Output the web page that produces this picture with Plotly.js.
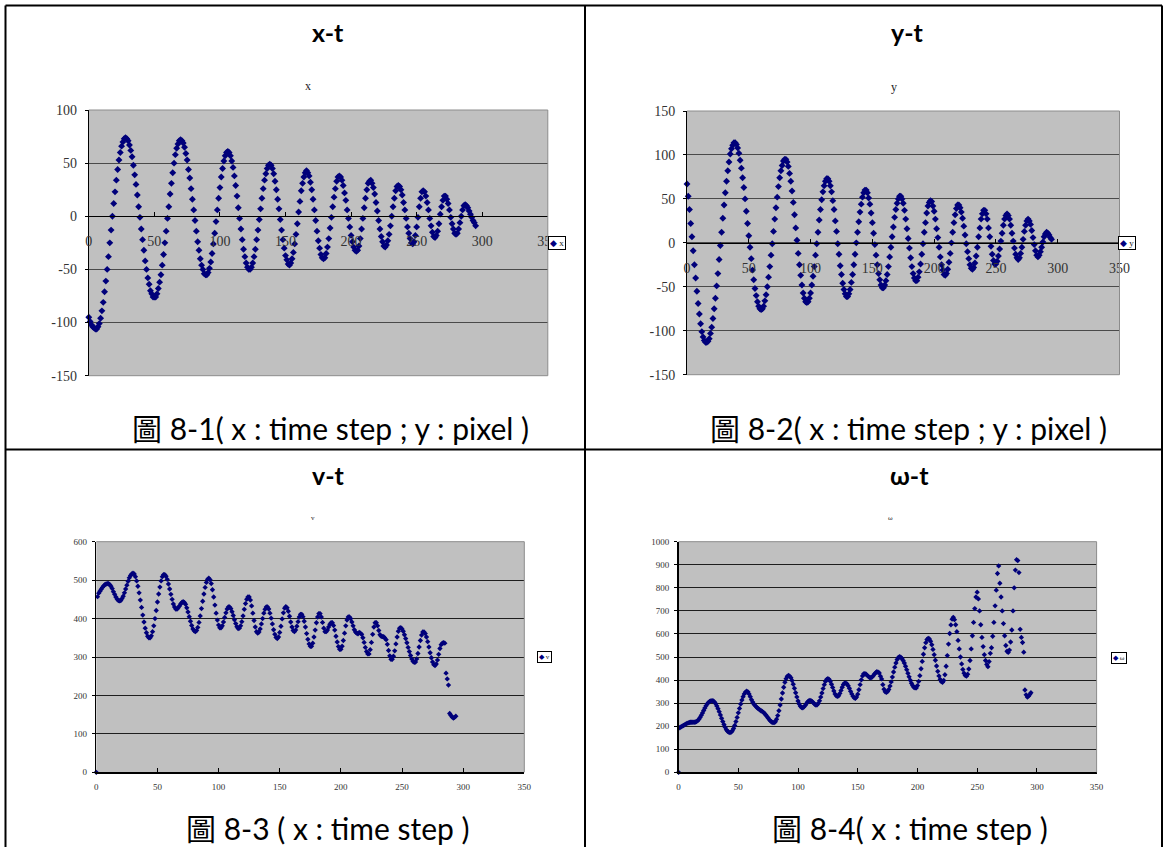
<!DOCTYPE html>
<html>
<head>
<meta charset="utf-8">
<script src="https://cdn.plot.ly/plotly-3.0.1.min.js"></script>
<style>
html,body{margin:0;padding:0;background:#ffffff;}
#chart{width:1163px;height:847px;}
</style>
</head>
<body>
<div id="chart"></div>
<script>
// ---------------- DATA ----------------
const timeStep = [
0,1,2,3,4,5,6,7,8,9,10,11,12,13,14,15,16,17,18,19,
20,21,22,23,24,25,26,27,28,29,30,31,32,33,34,35,36,37,38,39,
40,41,42,43,44,45,46,47,48,49,50,51,52,53,54,55,56,57,58,59,
60,61,62,63,64,65,66,67,68,69,70,71,72,73,74,75,76,77,78,79,
80,81,82,83,84,85,86,87,88,89,90,91,92,93,94,95,96,97,98,99,
100,101,102,103,104,105,106,107,108,109,110,111,112,113,114,115,116,117,118,119,
120,121,122,123,124,125,126,127,128,129,130,131,132,133,134,135,136,137,138,139,
140,141,142,143,144,145,146,147,148,149,150,151,152,153,154,155,156,157,158,159,
160,161,162,163,164,165,166,167,168,169,170,171,172,173,174,175,176,177,178,179,
180,181,182,183,184,185,186,187,188,189,190,191,192,193,194,195,196,197,198,199,
200,201,202,203,204,205,206,207,208,209,210,211,212,213,214,215,216,217,218,219,
220,221,222,223,224,225,226,227,228,229,230,231,232,233,234,235,236,237,238,239,
240,241,242,243,244,245,246,247,248,249,250,251,252,253,254,255,256,257,258,259,
260,261,262,263,264,265,266,267,268,269,270,271,272,273,274,275,276,277,278,279,
280,281,282,283,284,285,286,287,288,289,290,291,292,293,294,295
];

const xPixel = [
-95,-99,-102,-104,-105,-106,-106,-104,-101,-96,
-89,-81,-71,-61,-50,-38,-25,-13,0,12,
23,34,44,53,60,66,70,73,74,73,
71,67,62,56,48,39,30,20,9,-1,
-12,-22,-32,-42,-50,-58,-64,-70,-73,-76,
-76,-76,-73,-68,-62,-55,-46,-36,-25,-14,
-2,9,21,31,41,50,58,64,68,71,
72,71,69,65,59,53,44,36,26,16,
6,-4,-14,-24,-32,-40,-46,-50,-54,-55,
-55,-53,-49,-43,-35,-26,-16,-5,6,17,
27,37,45,52,57,60,61,60,57,52,
46,38,29,19,8,-2,-12,-22,-31,-38,
-44,-48,-50,-50,-48,-44,-38,-31,-22,-13,
-3,7,17,26,34,40,45,48,49,48,
45,40,33,25,16,7,-3,-13,-22,-30,
-37,-41,-45,-46,-44,-40,-34,-26,-17,-7,
4,14,24,31,37,41,43,41,38,32,
25,16,6,-4,-14,-23,-30,-36,-39,-40,
-39,-35,-29,-21,-11,-1,9,18,26,33,
37,38,37,34,29,22,15,6,-2,-10,
-18,-24,-29,-32,-33,-32,-28,-21,-12,-2,
8,17,25,31,33,34,31,27,21,13,
5,-4,-12,-19,-24,-28,-29,-27,-23,-17,
-9,0,9,17,24,28,29,28,25,20,
13,6,-2,-10,-16,-21,-25,-26,-24,-18,
-10,-1,9,17,23,24,23,19,13,6,
-2,-9,-15,-19,-20,-18,-14,-7,2,9,
15,19,19,16,12,6,-1,-7,-12,-16,
-17,-16,-12,-6,0,6,10,11,10,8,
5,2,-1,-4,-6,-9
];

const yPixel = [
67,53,38,22,7,-9,-25,-40,-55,-69,
-81,-92,-101,-107,-111,-113,-113,-112,-109,-103,
-96,-86,-75,-63,-49,-35,-19,-3,12,28,
43,57,70,82,92,101,107,111,114,114,
112,108,102,94,85,74,63,50,36,22,
8,-5,-18,-31,-42,-52,-60,-67,-72,-75,
-76,-75,-72,-66,-59,-50,-39,-27,-14,-1,
13,27,40,52,64,74,82,88,93,95,
95,92,87,79,70,59,46,32,17,3,
-12,-25,-37,-48,-57,-63,-67,-68,-67,-63,
-57,-48,-38,-27,-14,-1,12,26,38,49,
58,65,70,73,73,70,65,58,48,38,
25,13,-1,-13,-26,-36,-46,-53,-58,-61,
-61,-58,-53,-45,-36,-25,-13,0,12,24,
35,44,52,57,60,60,57,51,44,34,
23,11,-2,-14,-25,-35,-42,-48,-51,-51,
-48,-43,-36,-27,-16,-5,7,18,29,38,
45,50,53,53,50,45,37,27,16,5,
-6,-17,-27,-35,-40,-43,-43,-39,-33,-24,
-13,-1,12,23,34,42,46,48,47,42,
36,27,16,6,-5,-16,-25,-31,-36,-37,
-35,-30,-22,-12,0,12,23,32,39,43,
43,40,35,28,19,9,-1,-10,-18,-25,
-29,-30,-28,-23,-15,-5,7,17,27,33,
37,37,33,27,17,7,-4,-13,-20,-24,
-24,-21,-15,-7,2,11,20,27,31,33,
31,27,20,11,2,-6,-13,-17,-19,-17,
-12,-5,4,13,20,25,27,25,21,14,
6,-2,-9,-14,-16,-14,-10,-5,1,7,
10,12,11,9,6,4
];

const speedV = [
0,457,466,471,476,481,485,488,490,491,
491,488,484,478,470,463,456,451,447,446,
447,452,458,467,477,487,497,506,512,516,
518,516,509,498,484,467,448,429,409,391,
375,363,354,350,350,355,366,381,400,421,
443,464,482,498,509,514,514,510,502,490,
477,463,450,438,430,425,425,428,433,438,
442,444,442,437,428,417,405,393,382,373,
368,366,369,377,390,407,426,445,464,481,
494,502,505,501,491,475,456,435,414,396,
383,376,376,381,391,403,415,425,430,430,
426,418,408,397,387,379,374,375,381,392,
407,424,439,450,456,456,448,433,414,395,
378,366,362,365,373,386,400,414,424,430,
430,425,414,401,386,371,359,351,348,352,
364,380,399,415,427,431,428,419,406,391,
378,369,366,370,380,392,404,411,411,405,
393,378,361,346,334,328,328,336,352,370,
389,404,413,413,404,390,375,366,366,370,
378,385,389,389,382,370,354,339,327,320,
320,328,343,362,381,396,404,404,400,391,
381,371,365,362,360,364,362,359,350,338,
325,314,308,308,319,338,359,378,389,389,
381,369,358,354,353,353,349,345,333,317,
303,294,294,302,316,334,352,367,375,376,
373,367,358,348,337,325,314,304,295,289,
286,287,295,309,326,343,357,365,365,361,
352,340,326,311,298,287,280,278,282,292,
307,322,332,336,337,336,258,243,227,153,
148,144,141,143,146,null
];

const omega = [
0,193,197,200,203,206,209,212,214,216,
217,217,217,217,218,220,224,230,238,247,
257,268,279,289,297,303,307,310,311,309,
305,298,288,276,263,249,234,220,207,195,
185,178,174,172,174,180,190,203,220,238,
258,277,296,313,328,340,348,352,349,340,
328,315,305,296,290,284,279,275,271,267,
264,260,255,249,242,235,228,222,218,216,
216,219,230,246,267,292,318,344,369,390,
406,416,420,417,410,398,382,364,345,327,
309,296,286,281,280,284,290,298,305,310,
312,310,306,301,295,292,293,299,310,326,
344,363,380,394,403,406,403,395,382,368,
353,340,332,329,332,342,355,369,381,387,
387,383,375,364,351,340,330,323,321,326,
339,358,380,401,418,427,428,425,420,415,
411,410,413,419,426,432,436,434,431,417,
405,380,360,349,347,350,359,374,392,413,
435,456,474,489,498,501,499,494,485,474,
460,445,429,414,399,386,376,369,366,366,
376,394,419,449,481,512,540,562,576,581,
578,568,553,533,510,486,461,438,418,403,
393,390,398,423,460,506,556,602,639,664,
672,662,640,610,572,535,500,470,446,430,
420,417,425,448,485,535,592,650,710,760,
781,752,700,640,585,545,510,485,468,458,
480,516,540,590,650,722,790,862,895,820,
760,700,645,592,550,525,520,530,565,617,
700,800,877,922,918,866,620,585,563,521,
357,336,326,330,337,345
];

const seriesNames = ['x', 'y', 'v', 'ω'];
const panelTitles = ['x-t', 'y-t', 'v-t', 'ω-t'];
const captions = [
  '圖 8-1( x : time step ; y : pixel )',
  '圖 8-2( x : time step ; y : pixel )',
  '圖 8-3 ( x : time step )',
  '圖 8-4( x : time step )'
];
const allSeries = [xPixel, yPixel, speedV, omega];

// tick values and their printed labels (hyphen-minus as in the reference)
const timeTickValues = [0, 50, 100, 150, 200, 250, 300, 350];
const timeTickLabels = ['0', '50', '100', '150', '200', '250', '300', '350'];
const xPixelTickValues = [-150, -100, -50, 0, 50, 100];
const xPixelTickLabels = ['-150', '-100', '-50', '0', '50', '100'];
const yPixelTickValues = [-150, -100, -50, 0, 50, 100, 150];
const yPixelTickLabels = ['-150', '-100', '-50', '0', '50', '100', '150'];
const speedTickValues = [0, 100, 200, 300, 400, 500, 600];
const speedTickLabels = ['0', '100', '200', '300', '400', '500', '600'];
const omegaTickValues = [0, 100, 200, 300, 400, 500, 600, 700, 800, 900, 1000];
const omegaTickLabels = ['0', '100', '200', '300', '400', '500', '600', '700', '800', '900', '1000'];
const yTickValues = [xPixelTickValues, yPixelTickValues, speedTickValues, omegaTickValues];
const yTickLabels = [xPixelTickLabels, yPixelTickLabels, speedTickLabels, omegaTickLabels];

// ---------------- LAYOUT ----------------
const W = 1163, H = 847;
const fx = p => p / W;
const fy = p => 1 - p / H;

const panels = [
  {l: 88.8, r: 547.8, t: 110, b: 375.7, yMin: -150, yMax: 100, top: true,
   titleX: 328, titleY: 32, subX: 308, subY: 86, capX: 330, capY: 428, legX: 557, legY: 243},
  {l: 687, r: 1119.5, t: 111, b: 374.7, yMin: -150, yMax: 150, top: true,
   titleX: 907, titleY: 32, subX: 894, subY: 87, capX: 908, capY: 428, legX: 1127.4, legY: 243},
  {l: 96.3, r: 524.3, t: 541.7, b: 772.3, yMin: 0, yMax: 600, top: false,
   titleX: 328, titleY: 475, subX: 313, subY: 518, capX: 328, capY: 828, legX: 544, legY: 657},
  {l: 678.6, r: 1096.6, t: 541.7, b: 772.3, yMin: 0, yMax: 1000, top: false,
   titleX: 909, titleY: 475, subX: 890.6, subY: 518, capX: 910, capY: 828, legX: 1118.5, legY: 657.5}
];

const serif = "'Liberation Serif', 'Times New Roman', serif";
const sans = "Lato, 'Noto Sans CJK TC', sans-serif";

const traces = [];
const layout = {
  width: W, height: H,
  margin: {l: 0, r: 0, t: 0, b: 0, pad: 0},
  paper_bgcolor: '#ffffff',
  plot_bgcolor: '#c0c0c0',
  showlegend: false,
  shapes: [],
  annotations: []
};

panels.forEach((p, i) => {
  const n = i + 1;
  const xId = n === 1 ? 'x' : 'x' + n;
  const yId = n === 1 ? 'y' : 'y' + n;
  const xKey = n === 1 ? 'xaxis' : 'xaxis' + n;
  const yKey = n === 1 ? 'yaxis' : 'yaxis' + n;

  const tickSize = p.top ? 14 : 9;
  traces.push({
    type: 'scatter', mode: 'markers',
    x: timeStep, y: allSeries[i],
    xaxis: xId, yaxis: yId,
    name: seriesNames[i],
    cliponaxis: false,
    hoverinfo: 'skip',
    marker: {symbol: 'diamond', color: '#00007a', size: p.top ? 5.3 : 4.1,
             line: {width: 0}}
  });

  const xa = {
    domain: [fx(p.l), fx(p.r)],
    range: [0, 350],
    tickmode: 'array', tickvals: timeTickValues, ticktext: timeTickLabels,
    showline: true, linecolor: '#000000', linewidth: p.top ? 1 : 1.5,
    ticks: 'inside', ticklen: 4, tickcolor: '#000000', tickwidth: 1,
    showgrid: false, zeroline: false,
    tickfont: {family: serif, size: tickSize, color: '#333333'},
    fixedrange: true
  };
  if (p.top) {
    const zeroPx = p.t + (p.yMax / (p.yMax - p.yMin)) * (p.b - p.t);
    xa.anchor = 'free';
    xa.position = fy(zeroPx);
    xa.ticklabelstandoff = 12;
  } else {
    xa.anchor = yId;
    xa.ticklabelstandoff = 5;
  }
  layout[xKey] = xa;

  layout[yKey] = {
    domain: [fy(p.b), fy(p.t)],
    range: [p.yMin, p.yMax],
    tickmode: 'array', tickvals: yTickValues[i], ticktext: yTickLabels[i],
    anchor: xId,
    showline: true, linecolor: '#000000', linewidth: p.top ? 1 : 1.5,
    ticks: 'outside', ticklen: 3, tickcolor: '#000000', tickwidth: 1,
    showgrid: true, gridcolor: p.top ? '#4a4a4a' : '#1e1e1e', gridwidth: 1,
    zeroline: false,
    tickfont: {family: serif, size: tickSize, color: '#333333'},
    ticklabelstandoff: p.top ? 5 : 3,
    fixedrange: true
  };

  // gray plot-area frame edges
  const edge = {type: 'line', xref: 'paper', yref: 'paper', layer: 'above',
                line: {color: '#8c8c8c', width: 1}};
  layout.shapes.push(Object.assign({}, edge, {x0: fx(p.l), x1: fx(p.r), y0: fy(p.t), y1: fy(p.t)}));
  layout.shapes.push(Object.assign({}, edge, {x0: fx(p.r), x1: fx(p.r), y0: fy(p.t), y1: fy(p.b)}));
  if (p.top) {
    layout.shapes.push(Object.assign({}, edge, {x0: fx(p.l), x1: fx(p.r), y0: fy(p.b), y1: fy(p.b)}));
  }

  // bold panel title
  layout.annotations.push({
    xref: 'paper', yref: 'paper', x: fx(p.titleX), y: fy(p.titleY),
    xanchor: 'center', yanchor: 'middle', showarrow: false,
    text: '<b>' + panelTitles[i] + '</b>',
    font: {family: sans, size: 25, color: '#000000'}
  });
  // small chart title
  layout.annotations.push({
    xref: 'paper', yref: 'paper', x: fx(p.subX), y: fy(p.subY),
    xanchor: 'center', yanchor: 'middle', showarrow: false,
    text: seriesNames[i],
    font: {family: serif, size: p.top ? 12 : 7, color: '#222222'}
  });
  // caption
  layout.annotations.push({
    xref: 'paper', yref: 'paper', x: fx(p.capX), y: fy(p.capY),
    xanchor: 'center', yanchor: 'middle', showarrow: false,
    text: captions[i],
    font: {family: sans, size: 30, color: '#000000'}
  });
  // legend box
  layout.annotations.push({
    xref: 'paper', yref: 'paper', x: fx(p.legX), y: fy(p.legY),
    xanchor: 'center', yanchor: 'middle', showarrow: false,
    text: '<span style="color:#000080">◆</span> ' + seriesNames[i],
    font: {family: serif, size: p.top ? 9 : 7, color: '#222222'},
    bgcolor: '#ffffff', bordercolor: '#000000', borderwidth: 1, borderpad: 1
  });
});

// table borders
const border = {type: 'line', xref: 'paper', yref: 'paper', layer: 'above',
                line: {color: '#000000', width: 2}};
layout.shapes.push(Object.assign({}, border, {x0: fx(5.5), x1: fx(1162), y0: fy(5.5), y1: fy(5.5)}));
layout.shapes.push(Object.assign({}, border, {x0: fx(5.5), x1: fx(5.5), y0: fy(5.5), y1: fy(847)}));
layout.shapes.push(Object.assign({}, border, {x0: fx(1162), x1: fx(1162), y0: fy(5.5), y1: fy(847)}));
layout.shapes.push(Object.assign({}, border, {x0: fx(585), x1: fx(585), y0: fy(5.5), y1: fy(847)}));
layout.shapes.push(Object.assign({}, border, {x0: fx(5.5), x1: fx(1162), y0: fy(449.5), y1: fy(449.5)}));

Plotly.newPlot('chart', traces, layout, {displayModeBar: false, staticPlot: true});
</script>
</body>
</html>
